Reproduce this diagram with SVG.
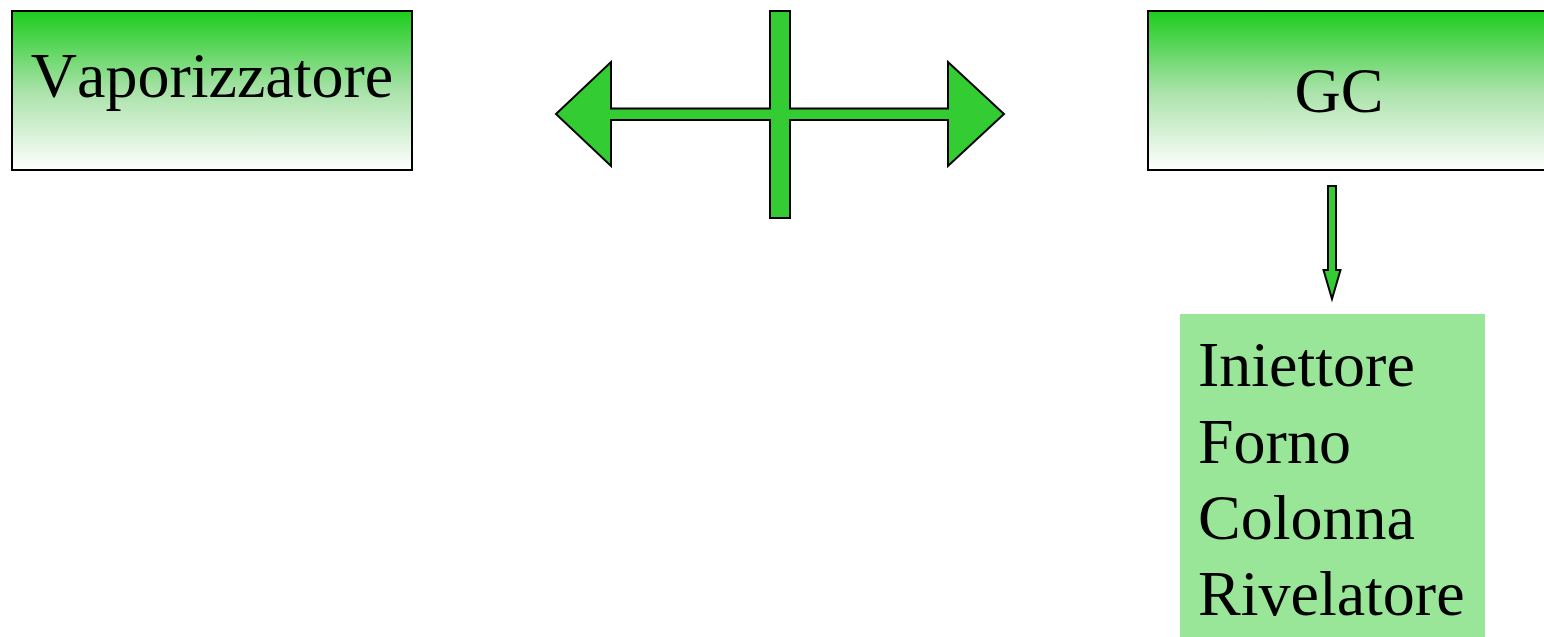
<svg xmlns="http://www.w3.org/2000/svg" width="1544" height="637" viewBox="0 0 1544 637">
<style>
.box{stroke:#000;stroke-width:2;fill:url(#g)}
.arr{fill:#33cc33;stroke:#000;stroke-width:2;stroke-linejoin:miter}
.t{font-family:"Liberation Serif","Times New Roman",serif;font-size:64px;fill:#000;font-kerning:none}
</style>
<defs>
<linearGradient id="g" x1="0" y1="0" x2="0" y2="1">
<stop offset="0" stop-color="#1ccc1c"/>
<stop offset="0.5" stop-color="#a8e2a8"/>
<stop offset="1" stop-color="#ffffff"/>
</linearGradient>
</defs>
<rect width="1544" height="637" fill="#fff"/>
<g id="vaporizzatore">
<rect class="box" x="12" y="11" width="400" height="159"/>
<text class="t" x="212" y="97" text-anchor="middle">Vaporizzatore</text>
</g>
<g id="gc">
<rect class="box" x="1148" y="11" width="410" height="159"/>
<text class="t" x="1339" y="112" text-anchor="middle">GC</text>
</g>
<g id="componenti">
<rect x="1180" y="314" width="305" height="323" fill="#99e699"/>
<text class="t" x="1198" y="386">Iniettore</text>
<text class="t" x="1198" y="463">Forno</text>
<text class="t" x="1198" y="539">Colonna</text>
<text class="t" x="1198" y="615">Rivelatore</text>
</g>
<g id="connectors">
<path class="arr" d="M556,114 L611,62 L611,108.5 L770,108.5 L770,11 L790,11 L790,108.5 L948,108.5 L948,62 L1004,114 L948,166 L948,120 L790,120 L790,218 L770,218 L770,120 L611,120 L611,166 Z"/>
<path class="arr" d="M1328,186 L1336,186 L1336,270 L1340.5,270 L1332,299 L1323.5,270 L1328,270 Z"/>
</g>
</svg>
